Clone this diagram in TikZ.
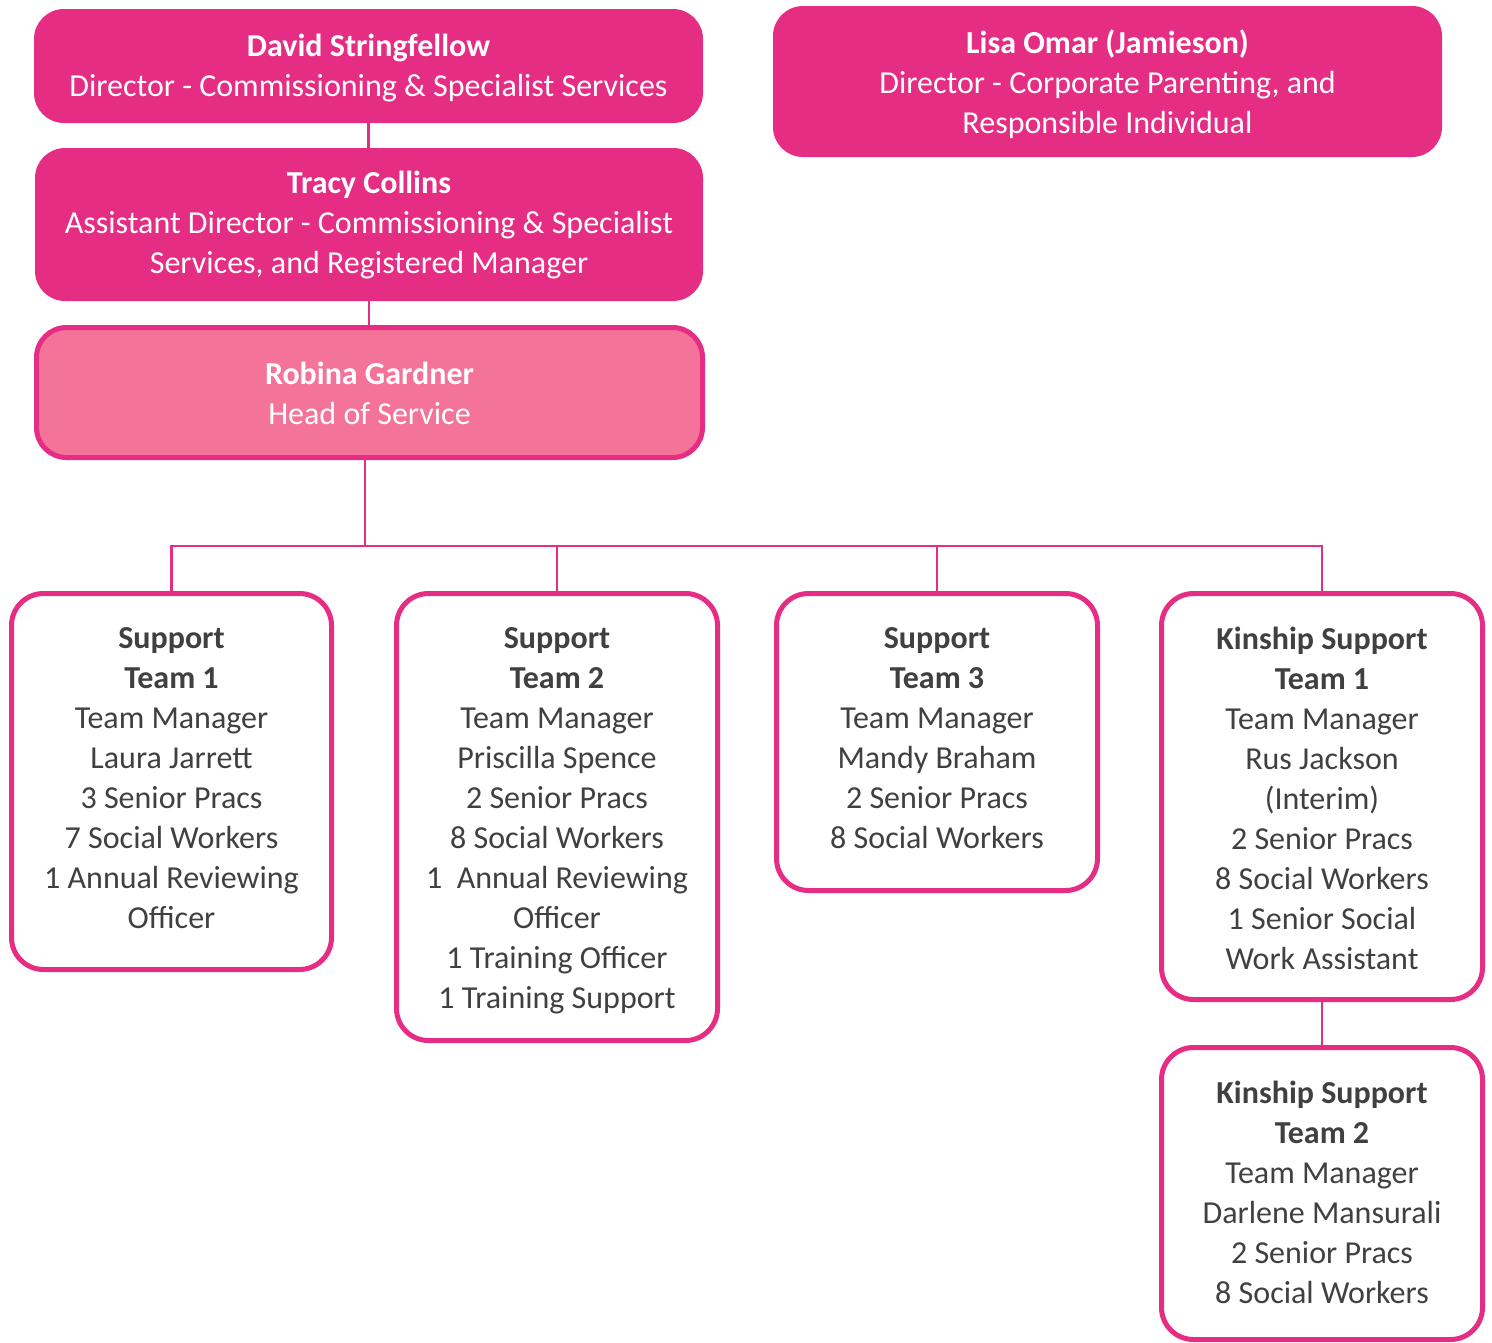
\documentclass[tikz,border=0pt]{standalone}
\usepackage{fontspec}
\setmainfont{Carlito}
\definecolor{mag}{HTML}{E62D84}
\definecolor{lpink}{HTML}{F47399}
\definecolor{txt}{HTML}{404040}
\begin{document}
\begin{tikzpicture}[x=1pt,y=-1pt,
  topbox/.style={fill=mag,rounded corners=30pt,inner sep=0pt},
  headbox/.style={fill=lpink,draw=mag,line width=5pt,rounded corners=30pt,inner sep=0pt},
  teambox/.style={fill=white,draw=mag,line width=5pt,rounded corners=32pt,inner sep=0pt,
    minimum width=321pt},
  wtext/.style={anchor=north,inner sep=0pt,align=center,text=white,
    font=\fontsize{32}{40}\selectfont,
    execute at begin node=\strut, execute at end node=\strut},
  gtext/.style={wtext,text=txt},
  conn/.style={draw=mag,line width=2.5pt}]
\useasboundingbox (0,0) rectangle (1492,1342);
\fill[white] (0,0) rectangle (1492,1342);

% boxes
\node[topbox,minimum width=669pt,minimum height=114pt] (dav) at (368.5,66) {};
\node[topbox,minimum width=669pt,minimum height=151pt] (lisa) at (1107.5,81.5) {};
\node[topbox,minimum width=668pt,minimum height=153pt] (tra) at (369,224.5) {};
\node[headbox,minimum width=666pt,minimum height=130pt] (rob) at (369.5,392.5) {};
\node[teambox,minimum width=320pt,minimum height=376pt] (st1) at (171.5,781.5) {};
\node[teambox,minimum height=447pt] (st2) at (557,817) {};
\node[teambox,minimum height=297pt] (st3) at (937,742) {};
\node[teambox,minimum height=406pt] (ks1) at (1322,796.5) {};
\node[teambox,minimum height=292pt] (ks2) at (1322,1193.5) {};

% texts
\node[wtext] (davt) at ([yshift=-25.5pt]dav.north)
  {\textbf{David Stringfellow}\\Director - Commissioning \& Specialist Services};
\node[wtext] (lisat) at ([yshift=-23.5pt]lisa.north)
  {\textbf{Lisa Omar (Jamieson)}\\Director - Corporate Parenting, and\\Responsible Individual};
\node[wtext] (trat) at ([yshift=-23.5pt]tra.north)
  {\textbf{Tracy Collins}\\Assistant Director - Commissioning \& Specialist\\Services, and Registered Manager};
\node[wtext] (robt) at ([yshift=-37pt]rob.north)
  {\textbf{Robina Gardner}\\Head of Service};
\node[gtext] (st1t) at ([yshift=-36pt]st1.north)
  {\textbf{Support}\\\textbf{Team 1}\\Team Manager\\Laura Jarrett\\3 Senior Pracs\\7 Social Workers\\1 Annual Reviewing\\Officer};
\node[gtext] (st2t) at ([yshift=-36pt]st2.north)
  {\textbf{Support}\\\textbf{Team 2}\\Team Manager\\Priscilla Spence\\2 Senior Pracs\\8 Social Workers\\1\ \ Annual Reviewing\\Officer\\1 Training Officer\\1 Training Support};
\node[gtext] (st3t) at ([yshift=-36pt]st3.north)
  {\textbf{Support}\\\textbf{Team 3}\\Team Manager\\Mandy Braham\\2 Senior Pracs\\8 Social Workers};
\node[gtext] (ks1t) at ([yshift=-36pt]ks1.north)
  {\textbf{Kinship Support}\\\textbf{Team 1}\\Team Manager\\Rus Jackson\\(Interim)\\2 Senior Pracs\\8 Social Workers\\1 Senior Social\\Work Assistant};
\node[gtext] (ks2t) at ([yshift=-36pt]ks2.north)
  {\textbf{Kinship Support}\\\textbf{Team 2}\\Team Manager\\Darlene Mansurali\\2 Senior Pracs\\8 Social Workers};

% connectors
\coordinate (bus) at (365,546);
\draw[conn] (dav.south) -- (dav.south |- tra.north);
\draw[conn] (tra.south) -- (tra.south |- rob.north);
\draw[conn] (bus |- rob.south) -- (bus);
\draw[conn] (bus) -| (st1.north);
\draw[conn] (bus) -| (st2.north);
\draw[conn] (bus) -| (st3.north);
\draw[conn] (bus) -| (ks1.north);
\draw[conn] (ks1.south) -- (ks2.north);
\end{tikzpicture}
\end{document}
